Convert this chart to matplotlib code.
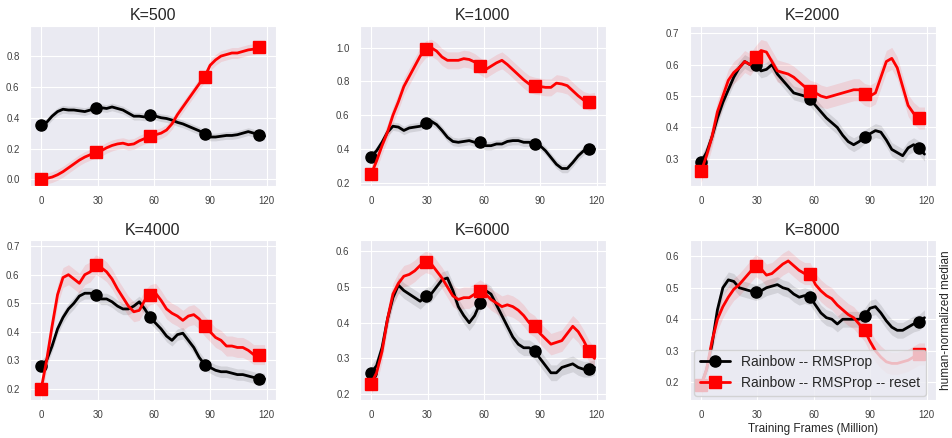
import numpy as np
import matplotlib
matplotlib.use("Agg")
import matplotlib.pyplot as plt
import seaborn as sns

sns.set_style("darkgrid")
plt.rcParams['font.family'] = ['Liberation Sans', 'DejaVu Sans']

# training frames (million), one sample every 2.9M frames
frames = np.round(np.arange(42) * 2.9, 1)

titles = ["K=500", "K=1000", "K=2000", "K=4000", "K=6000", "K=8000"]

rms_500 = [0.35, 0.37, 0.41, 0.44, 0.455, 0.45, 0.45, 0.445, 0.44, 0.45,
           0.46, 0.465, 0.46, 0.47, 0.46, 0.45, 0.43, 0.41, 0.41, 0.405,
           0.42, 0.41, 0.40, 0.395, 0.385, 0.37, 0.36, 0.345, 0.33, 0.315,
           0.295, 0.275, 0.275, 0.28, 0.285, 0.285, 0.29, 0.30, 0.31, 0.30,
           0.29, 0.28]
reset_500 = [0.005, 0.007, 0.015, 0.03, 0.05, 0.075, 0.10, 0.125, 0.145, 0.16,
             0.175, 0.185, 0.205, 0.22, 0.23, 0.235, 0.225, 0.23, 0.25, 0.265,
             0.28, 0.29, 0.30, 0.32, 0.36, 0.42, 0.47, 0.52, 0.57, 0.62,
             0.665, 0.74, 0.775, 0.80, 0.81, 0.82, 0.82, 0.83, 0.84, 0.845,
             0.86, 0.86]

rms_1000 = [0.355, 0.39, 0.44, 0.50, 0.535, 0.53, 0.51, 0.525, 0.53, 0.535,
            0.555, 0.565, 0.545, 0.51, 0.47, 0.445, 0.44, 0.445, 0.45, 0.44,
            0.44, 0.42, 0.42, 0.43, 0.43, 0.445, 0.45, 0.45, 0.44, 0.44,
            0.43, 0.42, 0.39, 0.35, 0.31, 0.285, 0.285, 0.32, 0.36, 0.39,
            0.40, 0.40]
reset_1000 = [0.25, 0.33, 0.42, 0.50, 0.60, 0.68, 0.77, 0.83, 0.89, 0.95,
              0.99, 1.0, 0.98, 0.945, 0.925, 0.925, 0.925, 0.935, 0.93, 0.915,
              0.89, 0.87, 0.89, 0.91, 0.925, 0.90, 0.87, 0.84, 0.81, 0.785,
              0.775, 0.77, 0.765, 0.765, 0.79, 0.785, 0.775, 0.745, 0.715, 0.69,
              0.68, 0.685]

rms_2000 = [0.29, 0.32, 0.37, 0.43, 0.48, 0.52, 0.56, 0.59, 0.61, 0.60,
            0.60, 0.58, 0.585, 0.60, 0.57, 0.55, 0.53, 0.51, 0.505, 0.50,
            0.49, 0.47, 0.45, 0.43, 0.415, 0.40, 0.375, 0.355, 0.345, 0.355,
            0.37, 0.38, 0.39, 0.385, 0.36, 0.33, 0.32, 0.31, 0.335, 0.345,
            0.335, 0.315]
reset_2000 = [0.26, 0.31, 0.37, 0.45, 0.50, 0.55, 0.575, 0.59, 0.61, 0.60,
              0.625, 0.645, 0.64, 0.61, 0.58, 0.575, 0.57, 0.56, 0.545, 0.53,
              0.515, 0.51, 0.50, 0.495, 0.50, 0.505, 0.51, 0.515, 0.52, 0.52,
              0.505, 0.50, 0.51, 0.56, 0.61, 0.62, 0.59, 0.53, 0.47, 0.445,
              0.43, 0.43]

rms_4000 = [0.28, 0.30, 0.35, 0.41, 0.45, 0.48, 0.50, 0.525, 0.535, 0.535,
            0.53, 0.515, 0.515, 0.505, 0.49, 0.48, 0.48, 0.49, 0.505, 0.48,
            0.45, 0.43, 0.41, 0.385, 0.37, 0.39, 0.395, 0.37, 0.345, 0.31,
            0.285, 0.275, 0.265, 0.26, 0.26, 0.255, 0.25, 0.25, 0.245, 0.24,
            0.235, 0.235]
reset_4000 = [0.20, 0.30, 0.42, 0.53, 0.59, 0.60, 0.585, 0.57, 0.60, 0.61,
              0.635, 0.625, 0.61, 0.585, 0.55, 0.52, 0.49, 0.47, 0.475, 0.51,
              0.53, 0.535, 0.51, 0.48, 0.465, 0.455, 0.44, 0.455, 0.46, 0.445,
              0.42, 0.40, 0.38, 0.37, 0.35, 0.35, 0.345, 0.345, 0.335, 0.32,
              0.32, 0.32]

rms_6000 = [0.26, 0.28, 0.33, 0.41, 0.47, 0.505, 0.49, 0.48, 0.47, 0.46,
            0.475, 0.48, 0.50, 0.52, 0.525, 0.49, 0.445, 0.42, 0.40, 0.42,
            0.455, 0.49, 0.48, 0.45, 0.42, 0.39, 0.36, 0.34, 0.33, 0.33,
            0.32, 0.30, 0.28, 0.26, 0.26, 0.275, 0.28, 0.285, 0.275, 0.27,
            0.27, 0.275]
reset_6000 = [0.23, 0.26, 0.32, 0.41, 0.48, 0.51, 0.53, 0.535, 0.545, 0.56,
              0.57, 0.565, 0.545, 0.525, 0.50, 0.475, 0.465, 0.47, 0.47, 0.48,
              0.49, 0.48, 0.465, 0.455, 0.445, 0.45, 0.445, 0.435, 0.42, 0.40,
              0.39, 0.37, 0.355, 0.34, 0.345, 0.35, 0.37, 0.39, 0.375, 0.35,
              0.32, 0.30]

rms_8000 = [0.19, 0.24, 0.32, 0.43, 0.50, 0.525, 0.52, 0.50, 0.495, 0.49,
            0.485, 0.49, 0.50, 0.505, 0.51, 0.50, 0.495, 0.48, 0.47, 0.475,
            0.47, 0.445, 0.42, 0.405, 0.40, 0.385, 0.40, 0.40, 0.40, 0.40,
            0.41, 0.435, 0.44, 0.42, 0.395, 0.375, 0.365, 0.365, 0.375, 0.385,
            0.39, 0.405]
reset_8000 = [0.19, 0.24, 0.33, 0.40, 0.44, 0.47, 0.495, 0.51, 0.53, 0.55,
              0.57, 0.56, 0.54, 0.545, 0.56, 0.575, 0.585, 0.57, 0.555, 0.545,
              0.545, 0.51, 0.49, 0.475, 0.465, 0.445, 0.43, 0.415, 0.405, 0.385,
              0.365, 0.33, 0.30, 0.28, 0.265, 0.26, 0.26, 0.265, 0.27, 0.28,
              0.29, 0.29]

rms_runs = [rms_500, rms_1000, rms_2000, rms_4000, rms_6000, rms_8000]
reset_runs = [reset_500, reset_1000, reset_2000, reset_4000, reset_6000, reset_8000]

# half-width of the shaded band around each curve
rms_spread = [0.025, 0.025, 0.022, 0.02, 0.022, 0.025]
reset_spread = [0.035, 0.05, 0.035, 0.035, 0.03, 0.035]

ylims = [(-0.04, 0.995), (0.184, 1.128), (0.215, 0.723),
         (0.161, 0.72), (0.184, 0.63), (0.144, 0.65)]
yticks = [[0.0, 0.2, 0.4, 0.6, 0.8], [0.2, 0.4, 0.6, 0.8, 1.0],
          [0.3, 0.4, 0.5, 0.6, 0.7], [0.2, 0.3, 0.4, 0.5, 0.6, 0.7],
          [0.2, 0.3, 0.4, 0.5, 0.6], [0.2, 0.3, 0.4, 0.5, 0.6]]

fig, axes = plt.subplots(2, 3, figsize=(9.53, 4.38), dpi=100)
fig.subplots_adjust(left=0.0315, right=0.982, top=0.9406, bottom=0.0868,
                    wspace=0.3415, hspace=0.344)

for i, ax in enumerate(axes.flat):
    rms = np.array(rms_runs[i])
    reset = np.array(reset_runs[i])
    ax.fill_between(frames, rms - rms_spread[i], rms + rms_spread[i],
                    color="black", alpha=0.1, linewidth=0)
    ax.plot(frames, rms, color="black", linewidth=2, marker="o",
            markersize=8, markevery=10, label="Rainbow -- RMSProp")
    ax.fill_between(frames, reset - reset_spread[i], reset + reset_spread[i],
                    color="red", alpha=0.1, linewidth=0)
    ax.plot(frames, reset, color="red", linewidth=2, marker="s",
            markersize=8, markevery=10, label="Rainbow -- RMSProp -- reset")
    ax.set_title(titles[i], fontsize=11.5, pad=4, color="0.15")
    ax.set_xlim(-5.95, 124.95)
    ax.set_ylim(*ylims[i])
    ax.set_xticks([0, 30, 60, 90, 120])
    ax.set_yticks(yticks[i])
    ax.tick_params(labelsize=7, colors="0.25", pad=4)

last = axes[1, 2]
last.set_xlabel("Training Frames (Million)", fontsize=8.5, color="0.15", labelpad=2)
last.yaxis.set_label_position("right")
last.set_ylabel("human-normalized median", fontsize=8.5, color="0.15", labelpad=3)
last.legend(loc="lower left", fontsize=10, framealpha=0.8,
            borderaxespad=0.3, handlelength=2.2)

plt.savefig("out.png")
